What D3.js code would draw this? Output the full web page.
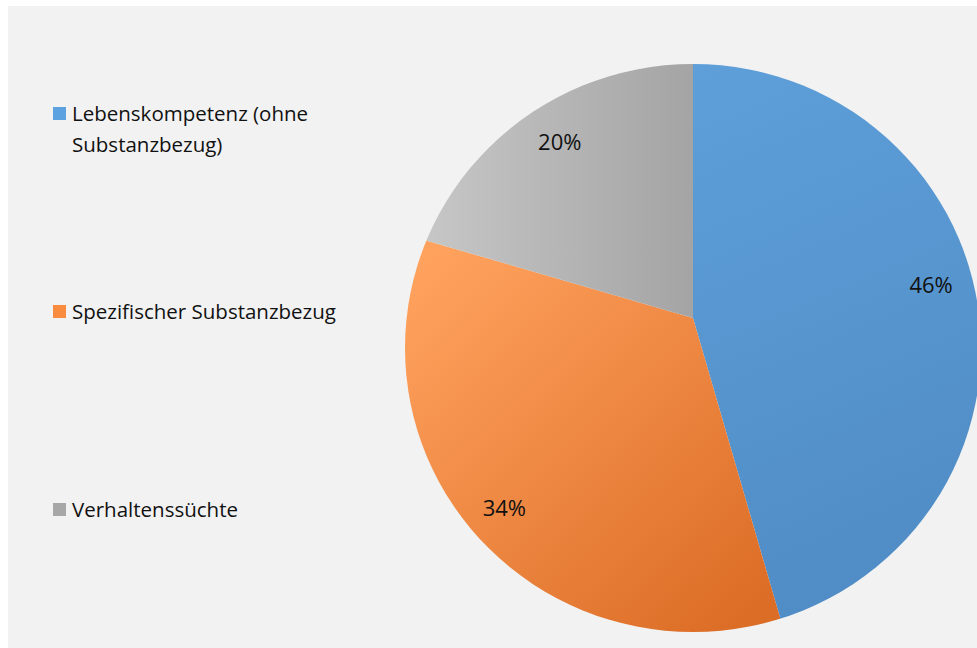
<!DOCTYPE html>
<html>
<head>
<meta charset="utf-8">
<script src="https://cdn.jsdelivr.net/npm/d3@7"></script>
<style>
  html, body { margin: 0; padding: 0; background: #ffffff; }
  svg { display: block; }
</style>
</head>
<body>
<svg id="chart" width="977" height="648"></svg>
<script>
// ---- data ----
const categories = ["Lebenskompetenz (ohne Substanzbezug)", "Spezifischer Substanzbezug", "Verhaltenssüchte"];
const legendLines = [["Lebenskompetenz (ohne", "Substanzbezug)"], ["Spezifischer Substanzbezug"], ["Verhaltenssüchte"]];
const values = [45.5, 34, 20.5];
const valueLabels = ["46%", "34%", "20%"];

// ---- styles ----
const legendColors = ["#5ca2e0", "#f98c3e", "#a7a7a7"];
const gradients = [
  { id: "gBlue",   x1: 700, y1: 70,  x2: 930, y2: 600, from: "#5e9fd9", to: "#4f8bc4" },
  { id: "gOrange", x1: 420, y1: 270, x2: 740, y2: 620, from: "#ffa25e", to: "#dc6d26" },
  { id: "gGray",   x1: 430, y1: 150, x2: 693, y2: 150, from: "#c6c6c6", to: "#a4a4a4" }
];

const svg = d3.select("#chart");
const W = 977, H = 648;

svg.append("rect").attr("x", 0).attr("y", 0).attr("width", W).attr("height", H).attr("fill", "#ffffff");
svg.append("rect").attr("x", 8).attr("y", 6).attr("width", W - 8).attr("height", H - 6).attr("fill", "#f2f2f2");

const defs = svg.append("defs");
gradients.forEach(g => {
  const lg = defs.append("linearGradient").attr("id", g.id)
    .attr("gradientUnits", "userSpaceOnUse")
    .attr("x1", g.x1).attr("y1", g.y1).attr("x2", g.x2).attr("y2", g.y2);
  lg.append("stop").attr("offset", "0%").attr("stop-color", g.from);
  lg.append("stop").attr("offset", "100%").attr("stop-color", g.to);
});

// pie geometry
const vx = 693, vy = 318;            // vertex where slices meet
const ccx = 693, ccy = 348, RX = 288, RY = 284; // outline

defs.append("clipPath").attr("id", "pieClip")
  .append("ellipse").attr("cx", ccx).attr("cy", ccy).attr("rx", RX).attr("ry", RY);

const pie = d3.pie().sort(null).value(d => d);
const arcs = pie(values);

// shift the arc path to the vertex without a transform so gradients stay in page coordinates
const pieG = svg.append("g").attr("clip-path", "url(#pieClip)");
pieG.selectAll("path").data(arcs).enter().append("path")
  .attr("d", d => {
    const ctx = d3.path();
    const a = d3.arc().innerRadius(0).outerRadius(800).context({
      moveTo: (x, y) => ctx.moveTo(x + vx, y + vy),
      lineTo: (x, y) => ctx.lineTo(x + vx, y + vy),
      arc: (x, y, r, a0, a1, ccw) => ctx.arc(x + vx, y + vy, r, a0, a1, ccw),
      closePath: () => ctx.closePath()
    });
    a(d);
    return ctx.toString();
  })
  .attr("fill", (d, i) => `url(#${gradients[i].id})`);

// data labels: along mid-angle ray from the vertex, at a fixed fraction of the outline radius
const R = (RX + RY) / 2;
const k = 0.862;
arcs.forEach((d, i) => {
  const a = (d.startAngle + d.endAngle) / 2;
  const dx = Math.sin(a), dy = -Math.cos(a);
  const ox = vx - ccx, oy = vy - ccy;
  const b = 2 * (dx * ox + dy * oy);
  const c = ox * ox + oy * oy - (k * R) * (k * R);
  const t = (-b + Math.sqrt(b * b - 4 * c)) / 2;
  const px = vx + dx * t, py = vy + dy * t;
  svg.append("text")
    .attr("x", px).attr("y", py + 9)
    .attr("text-anchor", "middle")
    .attr("font-family", "'Open Sans', sans-serif")
    .attr("font-size", 22)
    .attr("fill", "#111")
    .text(valueLabels[i]);
});

// legend
const legendY = [107, 305, 503];
const legend = svg.append("g");
categories.forEach((c, i) => {
  const g = legend.append("g").attr("transform", `translate(53,${legendY[i]})`);
  g.append("rect").attr("x", 0).attr("y", 0).attr("width", 13).attr("height", 13).attr("fill", legendColors[i]);
  const t = g.append("text")
    .attr("font-family", "'Open Sans', sans-serif")
    .attr("font-size", 20.5)
    .attr("fill", "#111");
  legendLines[i].forEach((ln, j) => {
    t.append("tspan").attr("x", 19).attr("y", 14 + j * 31).text(ln);
  });
});
</script>
</body>
</html>
